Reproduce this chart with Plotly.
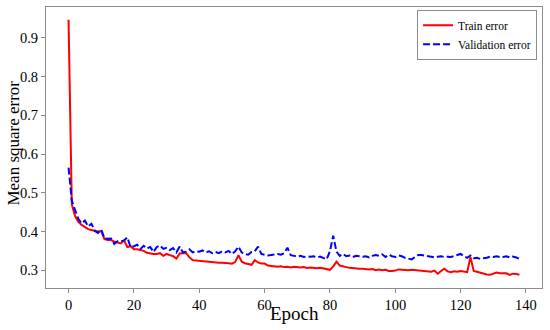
import plotly.graph_objects as go

epochs = list(range(139))

train_error = [
    0.947, 0.470, 0.440, 0.425, 0.417, 0.412, 0.406, 0.404, 0.401, 0.400,
    0.401, 0.380, 0.378, 0.378, 0.374, 0.371, 0.369, 0.377, 0.360, 0.362,
    0.354, 0.354, 0.352, 0.350, 0.345, 0.343, 0.342, 0.342, 0.344, 0.337,
    0.342, 0.339, 0.336, 0.330, 0.343, 0.344, 0.344, 0.333, 0.326, 0.325,
    0.324, 0.323, 0.322, 0.321, 0.320, 0.320, 0.319, 0.319, 0.319, 0.318,
    0.317, 0.321, 0.339, 0.322, 0.318, 0.315, 0.314, 0.326, 0.320, 0.317,
    0.317, 0.312, 0.311, 0.310, 0.309, 0.310, 0.308, 0.309, 0.307, 0.309,
    0.308, 0.307, 0.308, 0.306, 0.307, 0.306, 0.305, 0.306, 0.304, 0.303,
    0.301, 0.310, 0.322, 0.312, 0.309, 0.308, 0.306, 0.305, 0.305, 0.304,
    0.304, 0.303, 0.302, 0.303, 0.300, 0.302, 0.300, 0.301, 0.298, 0.298,
    0.299, 0.302, 0.301, 0.301, 0.300, 0.301, 0.300, 0.300, 0.298, 0.297,
    0.296, 0.296, 0.299, 0.291, 0.298, 0.304, 0.297, 0.295, 0.297, 0.296,
    0.298, 0.297, 0.295, 0.334, 0.298, 0.296, 0.293, 0.292, 0.289, 0.288,
    0.291, 0.294, 0.292, 0.292, 0.292, 0.288, 0.291, 0.290, 0.288,
]

validation_error = [
    0.565, 0.480, 0.455, 0.433, 0.421, 0.428, 0.413, 0.420, 0.402, 0.396,
    0.405, 0.382, 0.381, 0.382, 0.368, 0.375, 0.374, 0.377, 0.385, 0.359,
    0.362, 0.366, 0.355, 0.363, 0.356, 0.360, 0.347, 0.360, 0.364, 0.355,
    0.358, 0.352, 0.357, 0.346, 0.361, 0.346, 0.348, 0.354, 0.346, 0.349,
    0.348, 0.351, 0.346, 0.349, 0.344, 0.347, 0.344, 0.349, 0.346, 0.350,
    0.342, 0.349, 0.361, 0.346, 0.342, 0.340, 0.347, 0.349, 0.361, 0.342,
    0.340, 0.338, 0.339, 0.340, 0.342, 0.340, 0.344, 0.358, 0.339, 0.337,
    0.335, 0.337, 0.334, 0.336, 0.335, 0.336, 0.333, 0.335, 0.332, 0.328,
    0.349, 0.389, 0.348, 0.337, 0.342, 0.336, 0.338, 0.334, 0.337, 0.336,
    0.335, 0.336, 0.333, 0.337, 0.339, 0.337, 0.341, 0.334, 0.340, 0.336,
    0.334, 0.338, 0.336, 0.332, 0.330, 0.328, 0.334, 0.339, 0.339, 0.337,
    0.335, 0.334, 0.333, 0.335, 0.336, 0.334, 0.335, 0.334, 0.337, 0.340,
    0.342, 0.336, 0.332, 0.338, 0.331, 0.332, 0.329, 0.331, 0.332, 0.335,
    0.334, 0.336, 0.334, 0.334, 0.336, 0.333, 0.335, 0.333, 0.329,
]

x_ticks = [0, 20, 40, 60, 80, 100, 120, 140]
y_ticks = [0.3, 0.4, 0.5, 0.6, 0.7, 0.8, 0.9]

FONT = "Liberation Serif, Times New Roman, serif"
AXIS_GREY = "#8c8c8c"

fig = go.Figure()
fig.add_trace(go.Scatter(
    x=epochs, y=train_error, mode="lines", name="Train error",
    line=dict(color="#ff0000", width=2),
))
fig.add_trace(go.Scatter(
    x=epochs, y=validation_error, mode="lines", name="Validation error",
    line=dict(color="#0000ff", width=2, dash="7px,3px"),
))

fig.update_layout(
    width=550, height=330,
    margin=dict(l=46, r=8, t=7, b=42),
    paper_bgcolor="white", plot_bgcolor="white",
    font=dict(family=FONT, color="black"),
    showlegend=True,
    legend=dict(
        x=0.99, y=0.99, xanchor="right", yanchor="top",
        bordercolor=AXIS_GREY, borderwidth=1, bgcolor="white",
        font=dict(family=FONT, size=11.5, color="black"),
        itemwidth=30, tracegroupgap=0,
    ),
    annotations=[
        dict(text="Epoch", xref="paper", yref="paper", x=0.5, y=-0.092,
             xanchor="center", yanchor="middle", showarrow=False,
             font=dict(family=FONT, size=19, color="black")),
        dict(text="Mean square error", xref="paper", yref="paper", x=-0.0645, y=0.514,
             xanchor="center", yanchor="middle", textangle=-90, showarrow=False,
             font=dict(family=FONT, size=17, color="black")),
    ],
)
fig.update_xaxes(
    range=[-6.9, 144.9], tickvals=x_ticks, ticktext=[str(v) for v in x_ticks],
    showgrid=False, zeroline=False, automargin=False,
    showline=True, linecolor=AXIS_GREY, linewidth=1, mirror=True,
    ticks="outside", ticklen=4, tickcolor=AXIS_GREY,
    tickfont=dict(family=FONT, size=14.5, color="black"),
)
fig.update_yaxes(
    range=[0.254, 0.980], tickvals=y_ticks, ticktext=[f"{v:.1f}" for v in y_ticks],
    showgrid=False, zeroline=False, automargin=False,
    showline=True, linecolor=AXIS_GREY, linewidth=1, mirror=True,
    ticks="outside", ticklen=4, tickcolor=AXIS_GREY,
    tickfont=dict(family=FONT, size=14.5, color="black"),
)

# remove the page's default 8px body margin so the 550x330 figure fills the window
fig.write_html(
    "out.html",
    config={"displayModeBar": False},
    post_script="document.body.style.margin='0px';",
)
